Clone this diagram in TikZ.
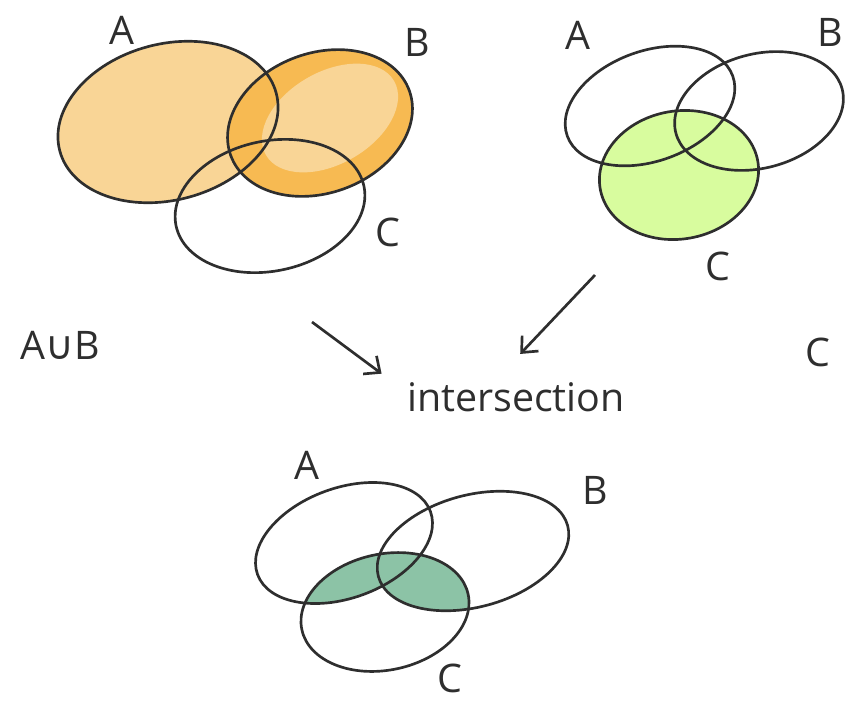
\documentclass[tikz,border=0pt]{standalone}
\usepackage{fontspec}
\setmainfont{Open Sans}
\newfontfamily\symfont{DejaVu Sans}
\usetikzlibrary{arrows.meta, positioning}
\definecolor{pencil}{HTML}{2E2E2E}
\definecolor{apricot}{HTML}{F9D596}
\definecolor{tangerine}{HTML}{F7BA52}
\definecolor{lime}{HTML}{D8FC9E}
\definecolor{sage}{HTML}{8CC3A6}
\tikzset{
  ring/.style={draw=pencil, line width=1.9pt},
  lbl/.style={font=\fontsize{28}{30}\selectfont, text=pencil, inner sep=0pt},
  arr/.style={draw=pencil, line width=1.9pt, -{Straight Barb[length=9pt,width=16pt]}}
}

\begin{document}
\begin{tikzpicture}[x=0.025cm, y=-0.025cm]
  \useasboundingbox (0,0) rectangle (848,700);

  % union of A and B
  \fill[apricot, rotate around={15:(168,122)}] (168,122) ellipse [x radius=112, y radius=78];
  \fill[tangerine, rotate around={20:(320,123)}] (320,123) ellipse [x radius=95, y radius=70];
  \fill[apricot, rotate around={30:(330,118)}] (330,118) ellipse [x radius=74, y radius=46];
  \draw[ring, rotate around={15:(168,122)}] (168,122) ellipse [x radius=112, y radius=78];
  \draw[ring, rotate around={20:(320,123)}] (320,123) ellipse [x radius=95, y radius=70];
  \draw[ring, rotate around={12:(270,206)}] (270,206) ellipse [x radius=96, y radius=65];
  \node[lbl] (ua) at (122,30) {A};
  \node[lbl] (ub) at (417,42) {B};
  \node[lbl] (uc) at (388,232) {C};

  % set C alone
  \fill[lime, rotate around={10:(679,175)}] (679,175) ellipse [x radius=80, y radius=64];
  \draw[ring, rotate around={20:(650,106)}] (650,106) ellipse [x radius=88, y radius=55];
  \draw[ring, rotate around={15:(759,111)}] (759,111) ellipse [x radius=86, y radius=57];
  \draw[ring, rotate around={10:(679,175)}] (679,175) ellipse [x radius=80, y radius=64];
  \node[lbl] (ca) at (578,35) {A};
  \node[lbl] (cb) at (830,32) {B};
  \node[lbl] (cc) at (718,266) {C};

  % middle row
  \node[lbl] (union) at (60,345) {A{\symfont ∪}B};
  \node[lbl] (cset) at (818,352) {C};
  \node[lbl] (inter) at (516,397) {intersection};
  \coordinate (leftstart) at (312,322);
  \coordinate (rightstart) at (595,275);
  \draw[arr] (leftstart) -- ([xshift=-18pt, yshift=6pt]inter.north west);
  \draw[arr] (rightstart) -- ([xshift=3pt, yshift=20pt]inter.north);

  % result
  \begin{scope}
    \clip[rotate around={12:(385,612)}] (385,612) ellipse [x radius=85, y radius=58];
    \fill[sage, rotate around={20:(344,543)}] (344,543) ellipse [x radius=92, y radius=55];
    \fill[sage, rotate around={15:(473,551)}] (473,551) ellipse [x radius=98, y radius=56];
  \end{scope}
  \draw[ring, rotate around={20:(344,543)}] (344,543) ellipse [x radius=92, y radius=55];
  \draw[ring, rotate around={15:(473,551)}] (473,551) ellipse [x radius=98, y radius=56];
  \draw[ring, rotate around={12:(385,612)}] (385,612) ellipse [x radius=85, y radius=58];
  \node[lbl] (ra) at (307,465) {A};
  \node[lbl] (rb) at (595,490) {B};
  \node[lbl] (rc) at (450,678) {C};
\end{tikzpicture}
\end{document}
